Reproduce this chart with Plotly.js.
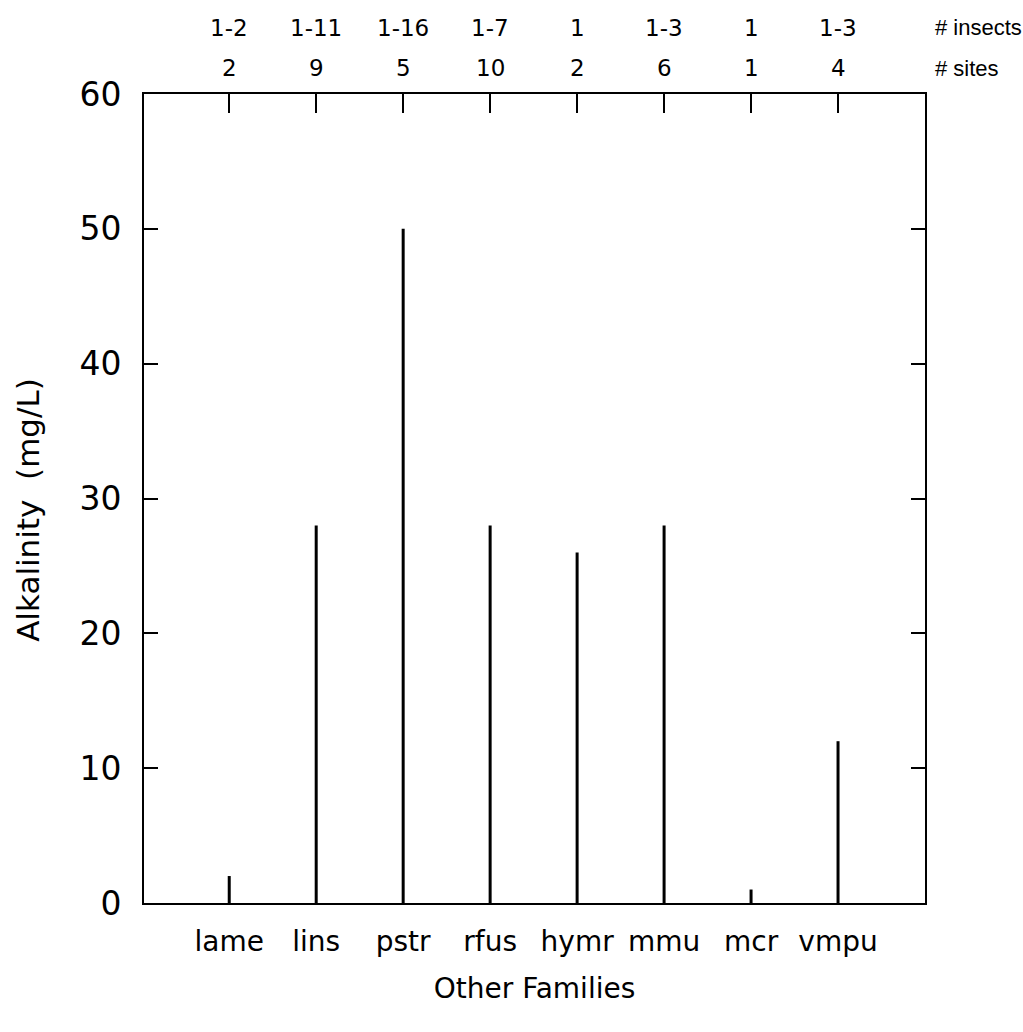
<!DOCTYPE html>
<html>
<head>
<meta charset="utf-8">
<script src="https://cdn.plot.ly/plotly-3.0.1.min.js"></script>
<style>html,body{margin:0;padding:0;background:#fff;}#chart{width:1023px;height:1032px;}</style>
</head>
<body>
<div id="chart"></div>
<script>
var categories = ["lame", "lins", "pstr", "rfus", "hymr", "mmu", "mcr", "vmpu"];
var minAlk = [0, 0, 0, 0, 0, 0, 0, 0];
var maxAlk = [2, 28, 50, 28, 26, 28, 1, 12];
var insects = ["1-2", "1-11", "1-16", "1-7", "1", "1-3", "1", "1-3"];
var sites = ["2", "9", "5", "10", "2", "6", "1", "4"];
var yTicks = [0, 10, 20, 30, 40, 50, 60];

var pos = categories.map(function (c, i) { return i + 1; });
var lx = [], ly = [];
for (var i = 0; i < categories.length; i++) {
  lx.push(pos[i], pos[i], null);
  ly.push(minAlk[i], maxAlk[i], null);
}
var FONT = "DejaVu Sans, sans-serif";
var FONT2 = "Liberation Sans, Arial, sans-serif";
var traces = [
  {x: lx, y: ly, type: "scatter", mode: "lines", line: {color: "#000", width: 3},
   hoverinfo: "skip", showlegend: false},
  {x: pos, y: pos.map(function () { return 0; }), xaxis: "x2", type: "scatter", mode: "markers",
   marker: {opacity: 0}, hoverinfo: "skip", showlegend: false}
];

var annotations = [];
for (var j = 0; j < categories.length; j++) {
  annotations.push({x: pos[j], y: 1.082, xref: "x", yref: "paper", text: insects[j], showarrow: false,
    font: {family: FONT, size: 23, color: "#000"}, xanchor: "center", yanchor: "middle"});
  annotations.push({x: pos[j], y: 1.032, xref: "x", yref: "paper", text: sites[j], showarrow: false,
    font: {family: FONT, size: 23, color: "#000"}, xanchor: "center", yanchor: "middle"});
}
annotations.push({x: 1.01, y: 1.082, xref: "paper", yref: "paper", text: "# insects", showarrow: false,
  font: {family: FONT2, size: 22, color: "#000"}, xanchor: "left", yanchor: "middle"});
annotations.push({x: 1.01, y: 1.032, xref: "paper", yref: "paper", text: "# sites", showarrow: false,
  font: {family: FONT2, size: 22, color: "#000"}, xanchor: "left", yanchor: "middle"});
annotations.push({x: -0.1485, y: 0.486, xref: "paper", yref: "paper", text: "Alkalinity  (mg/L)",
  textangle: -90, showarrow: false, font: {family: FONT, size: 31, color: "#000"},
  xanchor: "center", yanchor: "middle"});

var layout = {
  width: 1023, height: 1032,
  margin: {l: 144, r: 98, t: 94, b: 129},
  paper_bgcolor: "#fff", plot_bgcolor: "#fff",
  showlegend: false,
  font: {family: FONT, color: "#000"},
  xaxis: {
    range: [0.02, 9], tickvals: pos, ticktext: categories, ticks: "",
    showline: true, linecolor: "#000", linewidth: 2, mirror: true,
    showgrid: false, zeroline: false, ticklabelstandoff: 12,
    tickfont: {family: FONT, size: 28, color: "#000"},
    title: {text: "Other Families", font: {family: FONT, size: 28, color: "#000"}, standoff: 22}
  },
  xaxis2: {
    overlaying: "x", side: "top", matches: "x", range: [0.02, 9], tickvals: pos,
    showticklabels: false, ticks: "inside", ticklen: 19, tickwidth: 2, tickcolor: "#000",
    showline: false, showgrid: false, zeroline: false
  },
  yaxis: {
    range: [0, 60], tickvals: yTicks, ticks: "inside", ticklen: 14, tickwidth: 2, tickcolor: "#000",
    showline: true, linecolor: "#000", linewidth: 2, mirror: "ticks",
    showgrid: false, zeroline: false, ticklabelstandoff: 14,
    tickfont: {family: FONT, size: 33, color: "#000"}
  },
  annotations: annotations
};
Plotly.newPlot("chart", traces, layout, {displayModeBar: false, staticPlot: true});
</script>
</body>
</html>
